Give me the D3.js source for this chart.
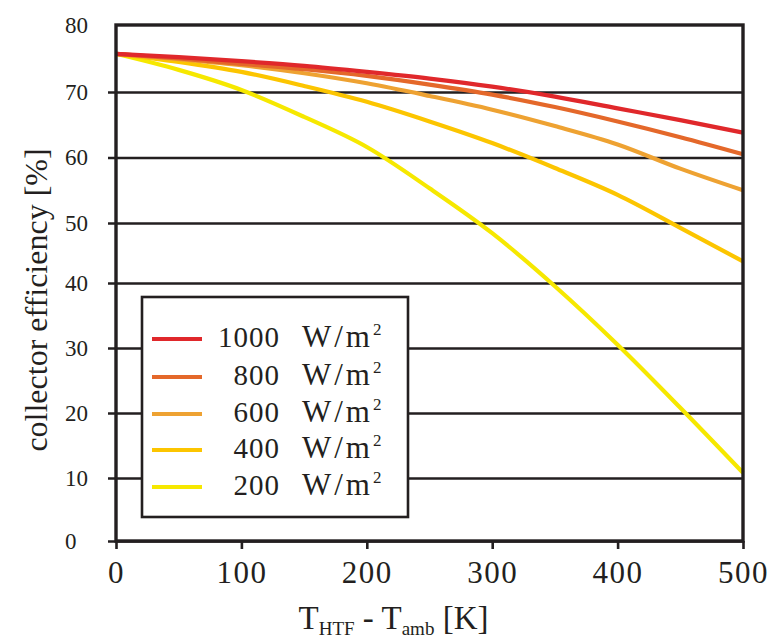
<!DOCTYPE html>
<html>
<head>
<meta charset="utf-8">
<script src="https://cdn.jsdelivr.net/npm/d3@7"></script>
<style>
  html, body { margin: 0; padding: 0; background: #fff; }
  svg { display: block; }
  text { font-family: "Liberation Serif", "DejaVu Serif", serif; fill: #231f20; }
</style>
</head>
<body>
<svg id="chart" width="769" height="640"></svg>
<script>
// ---- data ----
const xValues = [0, 50, 100, 150, 200, 250, 300, 350, 400, 450, 500];
const eff1000 = [75.7, 75.2, 74.6, 73.9, 73.0, 72.0, 70.8, 69.3, 67.5, 65.7, 63.8];
const eff800  = [75.7, 75.0, 74.2, 73.4, 72.4, 71.1, 69.6, 67.7, 65.5, 63.1, 60.5];
const eff600  = [75.7, 74.9, 74.0, 72.8, 71.3, 69.4, 67.3, 64.8, 62.0, 58.3, 55.0];
const eff400  = [75.7, 74.5, 73.0, 70.9, 68.5, 65.5, 62.2, 58.4, 54.3, 49.2, 43.6];
const eff200  = [75.7, 73.3, 70.3, 66.2, 61.6, 55.3, 48.3, 39.5, 30.5, 20.8, 10.8];
const seriesLabels = ["1000", "800", "600", "400", "200"];
const seriesColors = ["#e0282b", "#e4682a", "#eea232", "#fcc500", "#f6e800"];
const xTicks = [0, 100, 200, 300, 400, 500];
const yTicks = [0, 10, 20, 30, 40, 50, 60, 70, 80];

const seriesData = [eff1000, eff800, eff600, eff400, eff200];

// ---- layout ----
const svg = d3.select("#chart");
const L = 116, R = 743, T = 25, B = 541;
const x = d3.scaleLinear().domain([0, 500]).range([L, R]);
// the source drawing's gridlines are not perfectly evenly spaced
const yPix = [B, 478, 413, 348, 283, 223, 157.5, 92, T];
const y = d3.scaleLinear().domain(yTicks).range(yPix);
const ink = "#231f20";

// gridlines + left ticks via axis
const yAxis = d3.axisLeft(y).tickValues(yTicks).tickSize(-(R - L + 8)).tickPadding(0);
const gy = svg.append("g").attr("transform", `translate(${L - 8},0)`).call(yAxis);
gy.select(".domain").remove();
gy.selectAll(".tick line").attr("stroke", ink).attr("stroke-width", 2.6)
  .filter(d => d === 80).remove();
gy.selectAll(".tick text")
  .attr("x", 65 - (L - 8)).attr("text-anchor", "start").attr("dy", "0.32em")
  .attr("font-size", 23).attr("font-family", null).attr("fill", ink);

// x axis ticks
const xAxis = d3.axisBottom(x).tickValues(xTicks).tickSize(8).tickPadding(12);
const gx = svg.append("g").attr("transform", `translate(0,${B})`).call(xAxis);
gx.select(".domain").remove();
gx.selectAll(".tick line").attr("stroke", ink).attr("stroke-width", 2.6);
gx.selectAll(".tick text").attr("font-size", 31).attr("font-family", null)
  .attr("fill", ink).attr("letter-spacing", 1.5);

// curves
const line = d3.line().x((d, i) => x(xValues[i])).y(d => y(d)).curve(d3.curveMonotoneX);
const order = [4, 3, 2, 1, 0];
svg.append("g").selectAll("path").data(order).join("path")
  .attr("d", i => line(seriesData[i]))
  .attr("fill", "none")
  .attr("stroke", i => seriesColors[i])
  .attr("stroke-width", 4.2)
  .attr("stroke-linecap", "butt");

// frame
svg.append("rect").attr("x", L).attr("y", T).attr("width", R - L).attr("height", B - T)
  .attr("fill", "none").attr("stroke", ink).attr("stroke-width", 3.4);

// legend
const lg = svg.append("g");
lg.append("rect").attr("x", 142).attr("y", 297).attr("width", 266).attr("height", 220)
  .attr("fill", "#fff").attr("stroke", ink).attr("stroke-width", 2.6);
const legendY = [339, 377, 414, 450, 487];
seriesLabels.forEach((lab, i) => {
  lg.append("line").attr("x1", 152).attr("x2", 202)
    .attr("y1", legendY[i]).attr("y2", legendY[i])
    .attr("stroke", seriesColors[i]).attr("stroke-width", 4);
  lg.append("text").attr("x", 280).attr("y", legendY[i] + 8)
    .attr("text-anchor", "end").attr("font-size", 29).attr("letter-spacing", 1)
    .text(lab);
  const t = lg.append("text").attr("x", 302).attr("y", legendY[i] + 8)
    .attr("font-size", 31).attr("letter-spacing", 3);
  t.append("tspan").text("W/m");
  t.append("tspan").attr("dy", -12).attr("font-size", 17).text("2");
});

// axis titles
svg.append("text")
  .attr("transform", `translate(47,300) rotate(-90)`)
  .attr("text-anchor", "middle").attr("font-size", 32)
  .text("collector efficiency [%]");

const xt = svg.append("text").attr("x", (L + R) / 2 - 36).attr("y", 629)
  .attr("text-anchor", "middle").attr("font-size", 33);
xt.append("tspan").text("T");
xt.append("tspan").attr("font-size", 19).attr("dy", 6).text("HTF");
xt.append("tspan").attr("dy", -6).text(" - T");
xt.append("tspan").attr("font-size", 19).attr("dy", 6).text("amb");
xt.append("tspan").attr("dy", -6).text(" [K]");
</script>
</body>
</html>
